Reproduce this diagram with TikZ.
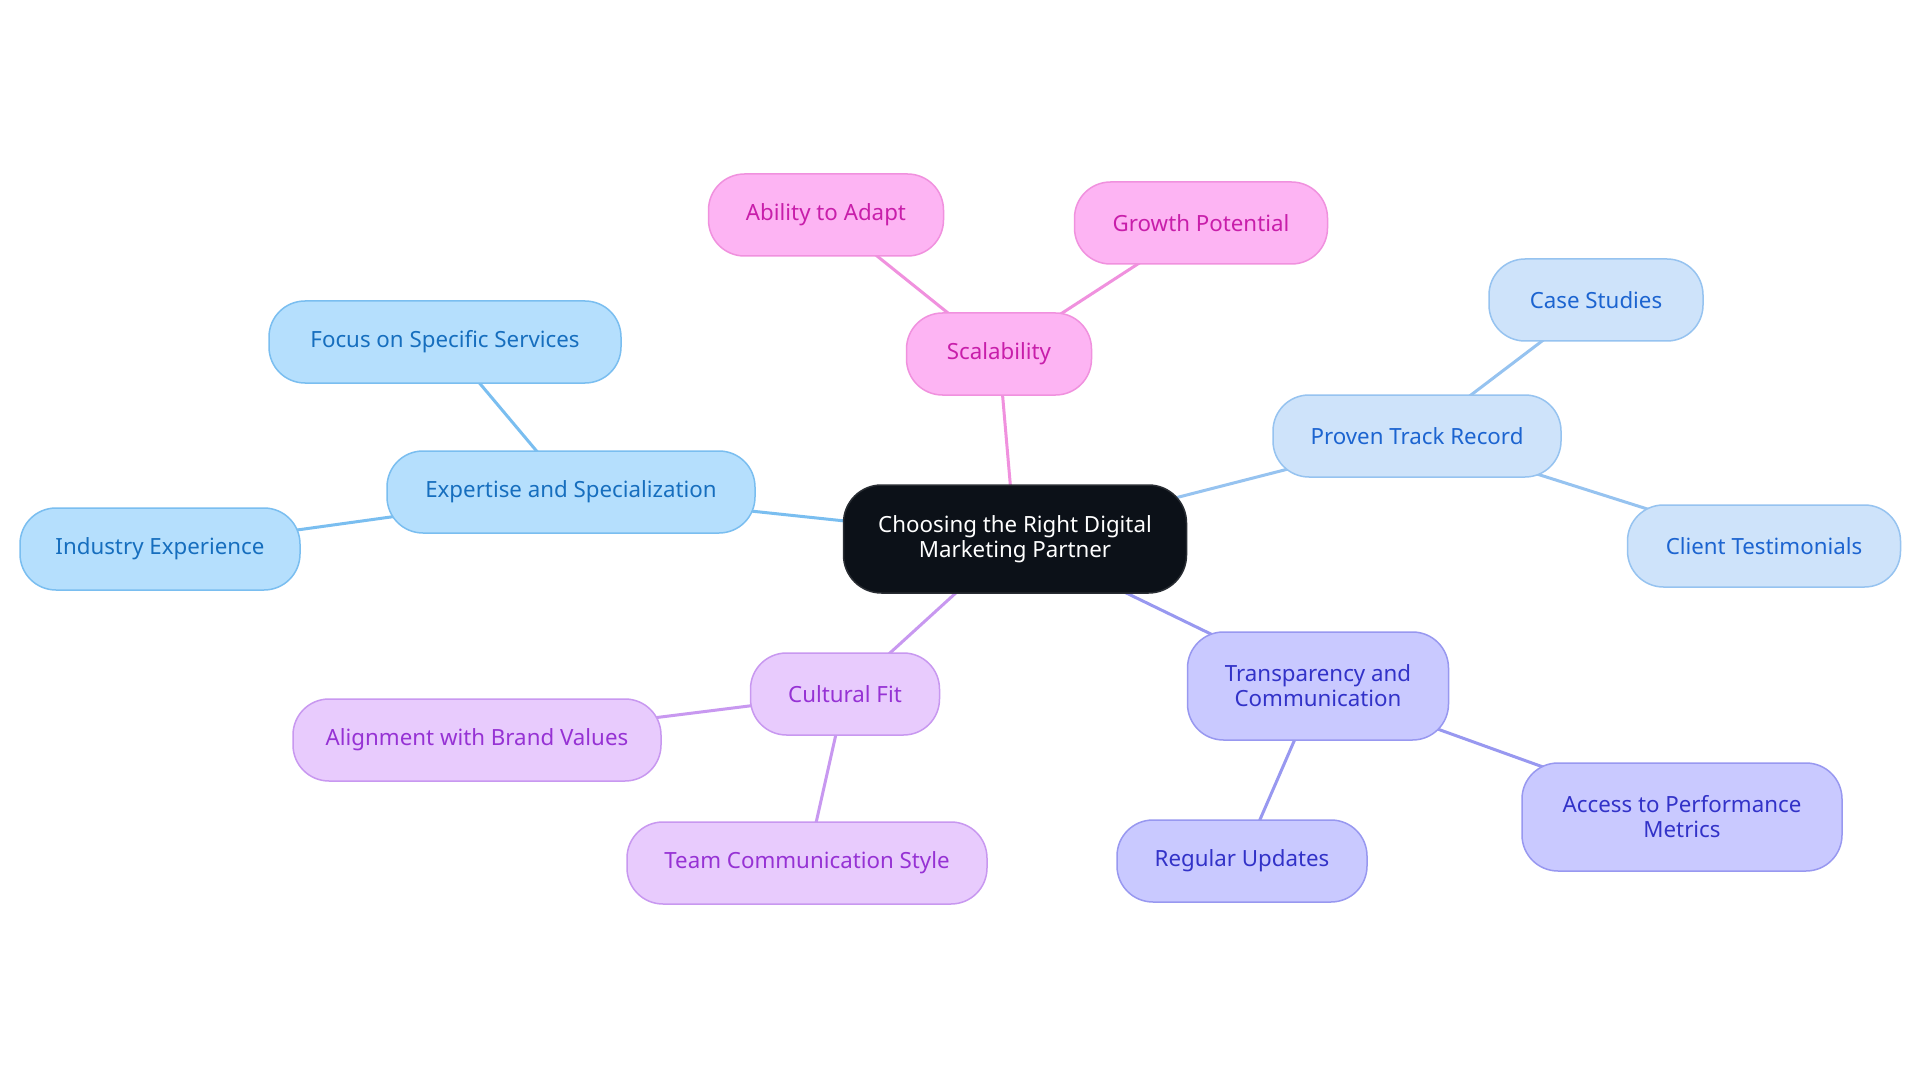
\documentclass[tikz,border=0pt]{standalone}
\usepackage{fontspec}
\setmainfont{Noto Sans}
\pgfdeclarelayer{background}
\pgfsetlayers{background,main}
\begin{document}
\begin{tikzpicture}[x=1pt,y=-1pt,
  base/.style={rounded corners=36pt, line width=1.5pt, align=center, inner sep=0pt,
    minimum height=82pt, font=\fontsize{22.3}{25}\selectfont},
  blu/.style={base, fill={rgb,255:red,181;green,223;blue,253}, draw={rgb,255:red,122;green,190;blue,240}, text={rgb,255:red,22;green,110;blue,190}},
  lbl/.style={base, fill={rgb,255:red,206;green,227;blue,250}, draw={rgb,255:red,150;green,195;blue,240}, text={rgb,255:red,28;green,100;blue,208}},
  pnk/.style={base, fill={rgb,255:red,253;green,180;blue,243}, draw={rgb,255:red,240;green,145;blue,222}, text={rgb,255:red,200;green,30;blue,170}},
  pur/.style={base, fill={rgb,255:red,232;green,203;blue,253}, draw={rgb,255:red,200;green,152;blue,240}, text={rgb,255:red,150;green,50;blue,212}},
  ind/.style={base, fill={rgb,255:red,201;green,201;blue,255}, draw={rgb,255:red,152;green,152;blue,240}, text={rgb,255:red,50;green,50;blue,200}},
  blue edge/.style={line width=3pt, draw={rgb,255:red,122;green,190;blue,240}},
  lb edge/.style={line width=3pt, draw={rgb,255:red,150;green,195;blue,240}},
  pk edge/.style={line width=3pt, draw={rgb,255:red,240;green,145;blue,222}},
  pu edge/.style={line width=3pt, draw={rgb,255:red,200;green,152;blue,240}},
  in edge/.style={line width=3pt, draw={rgb,255:red,152;green,152;blue,240}},
]
\useasboundingbox (0,0) rectangle (1920,1083);

% nodes
\node[base, fill={rgb,255:red,12;green,17;blue,24}, draw={rgb,255:red,40;green,44;blue,50}, text=white, minimum width=343pt, minimum height=108pt, rounded corners=38pt] (c) at (1015,539) {Choosing the Right Digital\\Marketing Partner};

\node[blu, minimum width=368pt] (exp) at (571,492) {Expertise and Specialization};
\node[blu, minimum width=352pt] (foc) at (445,342) {Focus on Specific Services};
\node[blu, minimum width=280pt] (ind) at (160,549) {Industry Experience};

\node[pnk, minimum width=185pt] (sca) at (999,354) {Scalability};
\node[pnk, minimum width=235pt] (abi) at (826,215) {Ability to Adapt};
\node[pnk, minimum width=253pt] (gro) at (1201,223) {Growth Potential};

\node[lbl, minimum width=288pt] (pro) at (1417,436) {Proven Track Record};
\node[lbl, minimum width=214pt] (cas) at (1596,300) {Case Studies};
\node[lbl, minimum width=273pt] (cli) at (1764,546) {Client Testimonials};

\node[ind, minimum width=261pt, minimum height=108pt] (tra) at (1318,686) {Transparency and\\Communication};
\node[ind, minimum width=320pt, minimum height=108pt] (acc) at (1682,817) {Access to Performance\\Metrics};
\node[ind, minimum width=250pt] (reg) at (1242,861) {Regular Updates};

\node[pur, minimum width=189pt] (cul) at (845,694) {Cultural Fit};
\node[pur, minimum width=368pt] (ali) at (477,740) {Alignment with Brand Values};
\node[pur, minimum width=360pt] (tea) at (807,863) {Team Communication Style};

% edges (behind nodes)
\begin{pgfonlayer}{background}
\fill[white] (0,0) rectangle (1920,1083);
\draw[blue edge] (c.center) -- (exp.center);
\draw[blue edge] (exp.center) -- (foc.center);
\draw[blue edge] (exp.center) -- (ind.center);
\draw[pk edge] (c.center) -- (sca.center);
\draw[pk edge] (sca.center) -- (abi.center);
\draw[pk edge] (sca.center) -- (gro.center);
\draw[lb edge] (c.center) -- (pro.center);
\draw[lb edge] (pro.center) -- (cas.center);
\draw[lb edge] (pro.center) -- (cli.center);
\draw[in edge] (c.center) -- (tra.center);
\draw[in edge] (tra.center) -- (acc.center);
\draw[in edge] (tra.center) -- (reg.center);
\draw[pu edge] (c.center) -- (cul.center);
\draw[pu edge] (cul.center) -- (ali.center);
\draw[pu edge] (cul.center) -- (tea.center);
\end{pgfonlayer}
\end{tikzpicture}
\end{document}
